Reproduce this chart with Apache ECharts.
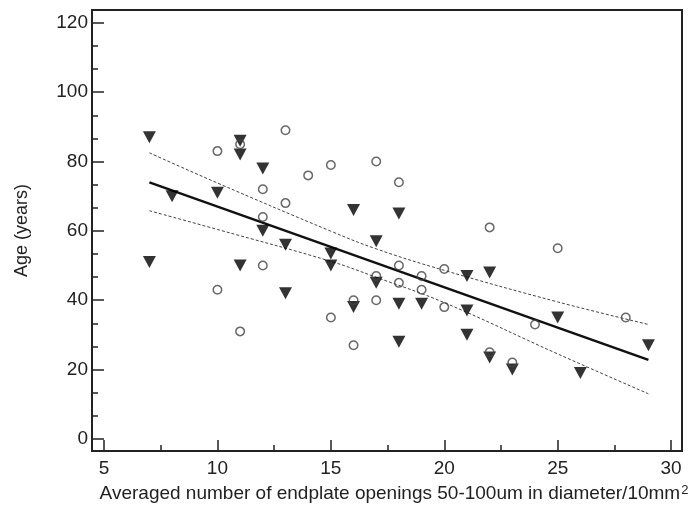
<!DOCTYPE html>
<html>
<head>
<meta charset="utf-8">
<script src="https://cdn.jsdelivr.net/npm/echarts@6/dist/echarts.min.js"></script>
<style>
  html, body { margin: 0; padding: 0; background: #fff; }
  #chart { width: 692px; height: 514px; }
</style>
</head>
<body>
<div id="chart"></div>
<script>
// Tick positions
const xTickValues = [5, 10, 15, 20, 25, 30];
const xMinorTickValues = [7.5, 12.5, 17.5, 22.5, 27.5];
const yTickValues = [0, 20, 40, 60, 80, 100, 120];
const yMinorTickValues = [6.67, 13.33, 26.67, 33.33, 46.67, 53.33, 66.67, 73.33, 86.67, 93.33, 106.67, 113.33];

// Group A (filled downward triangles): [openings, age]
const groupTriangles = [
  [7, 87], [8, 70], [10, 71], [11, 86], [11, 82], [12, 78], [12, 60], [13, 56],
  [7, 51], [11, 50], [13, 42], [15, 53.5], [15, 50], [16, 66], [18, 65], [17, 57],
  [16, 38], [17, 45], [18, 39], [19, 39], [18, 28], [21, 47], [21, 37], [21, 30],
  [22, 48], [22, 23.5], [23, 20], [25, 35], [26, 19], [29, 27]
];

// Group B (open circles): [openings, age]
const groupCircles = [
  [10, 83], [11, 85], [13, 89], [12, 72], [13, 68], [12, 64], [12, 50], [10, 43],
  [11, 31], [14, 76], [15, 79], [17, 80], [18, 74], [18, 50], [20, 49], [19, 47],
  [17, 47], [18, 45], [19, 43], [16, 40], [17, 40], [20, 38], [15, 35], [16, 27],
  [22, 61], [25, 55], [24, 33], [28, 35], [23, 22], [22, 25]
];

// Fitted regression line endpoints
const fitX = [7, 29];
const fitY = [74.0, 22.8];

// 95% confidence band
const bandX = [7, 10, 15, 17, 20, 25, 29];
const bandUpper = [82.5, 73.8, 59.9, 54.8, 48.6, 39.5, 33.0];
const bandLower = [65.8, 60.4, 51.2, 46.6, 39.3, 24.5, 13.0];

const zip = (xs, ys) => xs.map((x, i) => [x, ys[i]]);

const FONT = '"Liberation Sans", Arial, sans-serif';
const TEXT = '#222';

const chart = echarts.init(document.getElementById('chart'), null, { renderer: 'canvas' });

chart.setOption({
  animation: false,
  backgroundColor: '#fff',
  grid: {
    left: 92, top: 10, right: 10, bottom: 63,
    show: true, borderColor: '#222', borderWidth: 2, backgroundColor: 'transparent'
  },
  xAxis: [
    {
      type: 'value', min: 4.47, max: 30.48,
      name: '{t|Averaged number of endplate openings 50-100um in diameter/10mm}{s|2}',
      nameLocation: 'middle', nameGap: 33,
      nameTextStyle: {
        padding: [0, 0, 0, 14],
        rich: {
          t: { fontFamily: FONT, fontSize: 19, color: TEXT },
          s: { fontFamily: FONT, fontSize: 13, color: TEXT, verticalAlign: 'top', padding: [0, 0, 7, 1] }
        }
      },
      axisLine: { show: true, onZero: false, lineStyle: { color: '#222', width: 2 } },
      axisTick: { show: true, inside: true, length: 11, customValues: xTickValues, lineStyle: { color: '#222', width: 1.5 } },
      axisLabel: { customValues: xTickValues, margin: 8, fontFamily: FONT, fontSize: 19, color: TEXT },
      splitLine: { show: false }
    },
    {
      type: 'value', min: 4.47, max: 30.48, position: 'bottom',
      axisLine: { show: false, onZero: false },
      axisTick: { show: true, inside: true, length: 6, customValues: xMinorTickValues, lineStyle: { color: '#222', width: 1.5 } },
      axisLabel: { show: false },
      splitLine: { show: false }
    }
  ],
  yAxis: [
    {
      type: 'value', min: -3.5, max: 123.7,
      name: 'Age (years)', nameLocation: 'middle', nameGap: 61, nameRotate: 90,
      nameTextStyle: { fontFamily: FONT, fontSize: 18, color: TEXT },
      axisLine: { show: true, onZero: false, lineStyle: { color: '#222', width: 2 } },
      axisTick: { show: true, inside: true, length: 12, customValues: yTickValues, lineStyle: { color: '#222', width: 1.5 } },
      axisLabel: { customValues: yTickValues, margin: 4, fontFamily: FONT, fontSize: 19, color: TEXT },
      splitLine: { show: false }
    },
    {
      type: 'value', min: -3.5, max: 123.7, position: 'left',
      axisLine: { show: false, onZero: false },
      axisTick: { show: true, inside: true, length: 6, customValues: yMinorTickValues, lineStyle: { color: '#222', width: 1.5 } },
      axisLabel: { show: false },
      splitLine: { show: false }
    }
  ],
  series: [
    {
      name: 'upper band', type: 'line', data: zip(bandX, bandUpper), smooth: 0.4,
      showSymbol: false, lineStyle: { color: '#444', width: 1, type: [3, 2] }, z: 2
    },
    {
      name: 'lower band', type: 'line', data: zip(bandX, bandLower), smooth: 0.4,
      showSymbol: false, lineStyle: { color: '#444', width: 1, type: [3, 2] }, z: 2
    },
    {
      name: 'fit', type: 'line', data: zip(fitX, fitY),
      showSymbol: false, lineStyle: { color: '#111', width: 2.5 }, z: 3
    },
    {
      name: 'triangles', type: 'scatter', data: groupTriangles,
      symbol: 'triangle', symbolRotate: 180, symbolSize: [13, 12],
      itemStyle: { color: '#000' }, z: 4
    },
    {
      name: 'circles', type: 'scatter', data: groupCircles,
      symbol: 'circle', symbolSize: 8.5,
      itemStyle: { color: 'transparent', borderColor: '#444', borderWidth: 1.5 }, z: 5
    }
  ]
});
</script>
</body>
</html>
